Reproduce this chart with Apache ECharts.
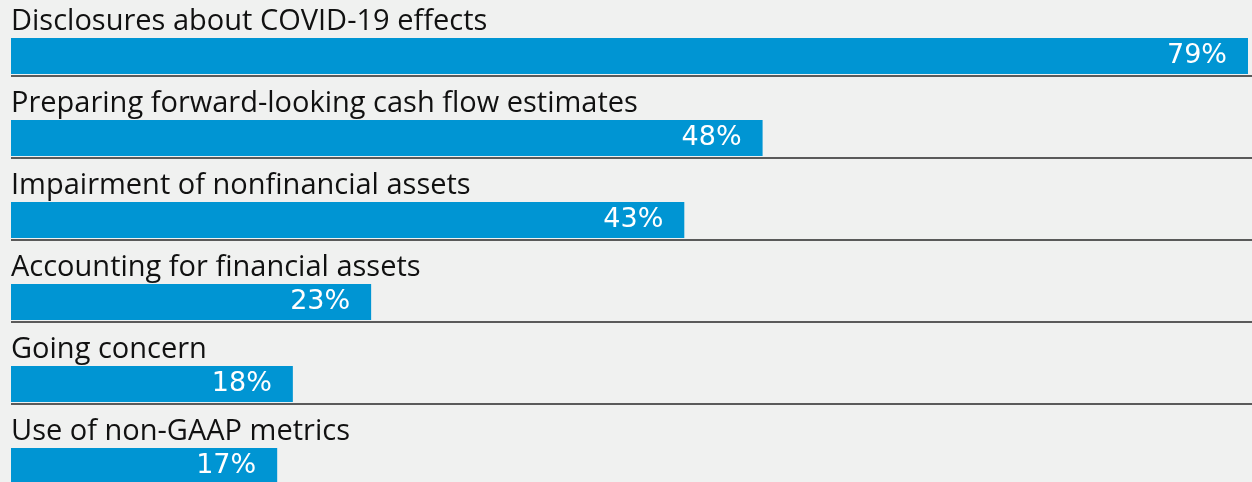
<!DOCTYPE html>
<html lang="en">
<head>
  <meta charset="UTF-8">
  <script src="https://cdn.jsdelivr.net/npm/echarts@6/dist/echarts.min.js"></script>
  <title>COVID-19 reporting topics</title>
  <style>
    html, body { margin: 0; padding: 0; background: #f0f1f0; }
    #chart { width: 1252px; height: 482px; }
  </style>
</head>
<body>
  <div id="chart"></div>
<script>
  const categories = [
    'Disclosures about COVID-19 effects',
    'Preparing forward-looking cash flow estimates',
    'Impairment of nonfinancial assets',
    'Accounting for financial assets',
    'Going concern',
    'Use of non-GAAP metrics'
  ];
  const values = [79, 48, 43, 23, 18, 17];

  const chart = echarts.init(document.getElementById('chart'));

  const option = {
    backgroundColor: '#f0f1f0',
    animation: false,
    grid: [
      // bars
      { left: 11, right: 4, top: 15, height: 492, outerBoundsMode: 'none', containLabel: false },
      // row separators
      { left: 11, right: 0, top: -6, height: 492, outerBoundsMode: 'none', containLabel: false }
    ],
    xAxis: [
      { gridIndex: 0, type: 'value', min: 0, max: 79, show: false },
      { gridIndex: 1, type: 'value', min: 0, max: 1, show: false }
    ],
    yAxis: [
      {
        gridIndex: 0, type: 'category', data: categories, inverse: true,
        axisLine: { show: false }, axisTick: { show: false },
        axisLabel: { show: false }, splitLine: { show: false }
      },
      {
        gridIndex: 1, type: 'category', data: categories, inverse: true,
        axisLine: { show: false }, axisTick: { show: false },
        axisLabel: { show: false },
        splitLine: { show: true, lineStyle: { color: '#5a5a5a', width: 2 } }
      }
    ],
    series: [
      {
        type: 'bar',
        xAxisIndex: 0, yAxisIndex: 0,
        data: values,
        barWidth: 36,
        itemStyle: { color: '#0095d3' },
        label: {
          show: true,
          position: [0, -16],
          align: 'left',
          verticalAlign: 'middle',
          formatter: '{b}',
          color: '#111',
          fontFamily: 'Open Sans',
          fontSize: 29
        }
      },
      {
        type: 'bar',
        xAxisIndex: 0, yAxisIndex: 0,
        data: values,
        barWidth: 36,
        barGap: '-100%',
        itemStyle: { color: 'rgba(0,0,0,0)' },
        label: {
          show: true,
          position: 'insideRight',
          distance: 21,
          formatter: '{c}%',
          color: '#fff',
          fontFamily: 'DejaVu Sans',
          fontSize: 27
        }
      }
    ]
  };
  chart.setOption(option);
</script>
</body>
</html>
